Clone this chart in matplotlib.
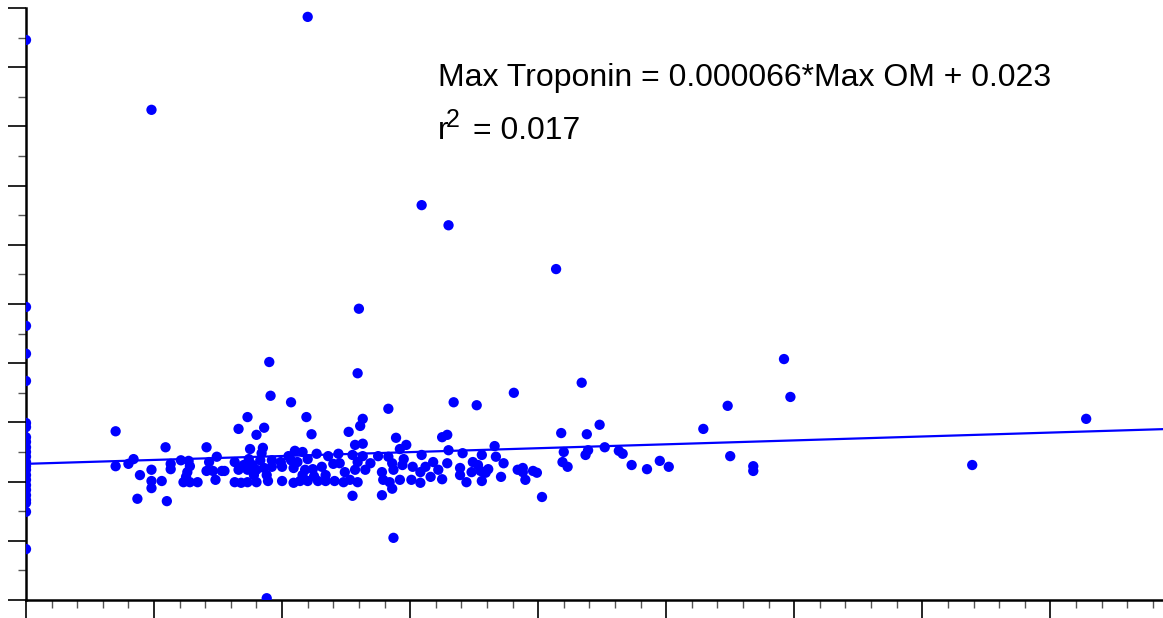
import matplotlib.pyplot as plt
import numpy as np

plt.rcParams['font.family'] = ['Liberation Sans', 'DejaVu Sans']

# Max OM (x) and Max Troponin (y)
max_om = np.array([
    # outliers and sparse points
    22.0, 9.8, 30.9, 33.0, 41.4, 26.0, 19.0, 25.9, 59.2, 43.4, 38.1, 59.7,
    19.1, 20.7, 33.4, 35.2, 54.8, 82.8, 17.3, 21.9, 28.3, 26.3, 16.6, 7.0,
    44.8, 41.8, 43.8, 52.9, 73.9, 55.0, 56.8, 56.8, 47.3, 48.5, 49.5, 50.2,
    45.2, 46.3, 46.6, 28.7, 18.8, 40.3, 25.5, 8.7, 11.0,
    # 7 - 15
    10.9, 14.1, 7.0, 8.0, 8.4, 8.9, 9.8, 9.8, 9.8, 10.6, 11.3, 11.3, 12.1,
    12.7, 12.8, 12.6, 12.5, 12.3, 12.8, 13.4, 14.3, 14.9, 14.1, 14.6, 15.3,
    14.8,
    # 15 - 26
    18.0, 18.6, 22.3, 25.2, 25.7, 17.5, 18.5, 18.4, 16.3, 17.4, 17.0, 17.7,
    18.3, 19.2, 19.9, 20.5, 21.0, 21.6, 20.7, 21.2, 22.0, 22.7, 23.6, 24.4,
    24.5, 24.0, 23.1, 22.4, 21.8, 20.9, 20.0, 19.2, 18.6, 18.0, 17.3, 16.6,
    15.5, 16.3, 16.8, 17.3, 18.0, 18.9, 20.0, 20.9, 21.4, 22.0, 22.8, 23.4,
    24.1, 24.8, 25.3, 23.4, 22.5, 24.9, 21.6, 18.8, 17.8,
    # 25 - 35
    26.1, 26.3, 28.9, 29.7, 29.2, 32.5, 32.9, 33.0, 34.1, 25.5, 26.3, 27.5,
    28.3, 29.5, 30.9, 31.8, 32.9, 34.9, 25.9, 26.9, 28.6, 29.4, 30.2, 31.2,
    32.2, 33.9, 34.8, 25.7, 26.5, 27.8, 28.7, 30.8, 31.6, 33.9, 25.9, 27.9,
    28.4, 29.2, 30.1, 30.8, 32.5, 34.4, 28.6, 27.8,
    # 35 - 45
    36.6, 35.6, 36.7, 42.0, 43.9, 43.7, 37.3, 35.3, 36.1, 41.9, 42.3, 35.5,
    35.9, 38.4, 38.8, 38.8, 39.6, 39.9, 35.6, 37.1, 39.0,
    # Max OM = 0
    0, 0, 0, 0, 0, 0, 0, 0, 0, 0, 0, 0, 0, 0, 0, 0, 0, 0, 0, 0, 0, 0, 0, 0,
])

max_troponin = np.array([
    0.0985, 0.0828, 0.0667, 0.0633, 0.0559, 0.0492, 0.0402, 0.0383, 0.0407,
    0.0367, 0.0350, 0.0343, 0.0345, 0.0334, 0.0334, 0.0329, 0.0328, 0.0306,
    0.0309, 0.0309, 0.0323, 0.0306, 0.0289, 0.0285, 0.0296, 0.0282, 0.0280,
    0.0289, 0.0228, 0.0243, 0.0226, 0.0218, 0.0228, 0.0221, 0.0235, 0.0225,
    0.0258, 0.0252, 0.0247, 0.0105, 0.0003, 0.0174, 0.0176, 0.0171, 0.0167,

    0.0258, 0.0258, 0.0226, 0.0230, 0.0238, 0.0211, 0.0220, 0.0201, 0.0189,
    0.0201, 0.0230, 0.0221, 0.0236, 0.0235, 0.0226, 0.0216, 0.0208, 0.0199,
    0.0199, 0.0199, 0.0233, 0.0242, 0.0218, 0.0218, 0.0218, 0.0203,

    0.0279, 0.0291, 0.0280, 0.0284, 0.0262, 0.0255, 0.0257, 0.0248, 0.0233,
    0.0238, 0.0228, 0.0228, 0.0236, 0.0236, 0.0233, 0.0243, 0.0252, 0.0250,
    0.0236, 0.0233, 0.0238, 0.0247, 0.0243, 0.0247, 0.0231, 0.0230, 0.0225,
    0.0221, 0.0220, 0.0223, 0.0225, 0.0225, 0.0223, 0.0220, 0.0220, 0.0220,
    0.0218, 0.0199, 0.0198, 0.0199, 0.0199, 0.0201, 0.0201, 0.0198, 0.0201,
    0.0201, 0.0201, 0.0201, 0.0201, 0.0199, 0.0203, 0.0211, 0.0209, 0.0216,
    0.0211, 0.0211, 0.0211,

    0.0294, 0.0264, 0.0274, 0.0262, 0.0255, 0.0275, 0.0279, 0.0253, 0.0248,
    0.0245, 0.0243, 0.0243, 0.0242, 0.0238, 0.0245, 0.0233, 0.0231, 0.0233,
    0.0233, 0.0231, 0.0231, 0.0228, 0.0225, 0.0225, 0.0220, 0.0223, 0.0216,
    0.0220, 0.0220, 0.0216, 0.0220, 0.0216, 0.0208, 0.0211, 0.0199, 0.0203,
    0.0199, 0.0203, 0.0203, 0.0198, 0.0204, 0.0199, 0.0188, 0.0177,

    0.0260, 0.0245, 0.0242, 0.0250, 0.0253, 0.0245, 0.0231, 0.0228, 0.0221,
    0.0233, 0.0225, 0.0218, 0.0215, 0.0220, 0.0223, 0.0216, 0.0218, 0.0215,
    0.0201, 0.0208, 0.0203,

    0.0946, 0.0495, 0.0463, 0.0416, 0.0370, 0.0299, 0.0292, 0.0275, 0.0267,
    0.0258, 0.0250, 0.0242, 0.0233, 0.0226, 0.0220, 0.0211, 0.0203, 0.0194,
    0.0186, 0.0177, 0.0169, 0.0164, 0.0149, 0.0086,
])

slope = 0.000066
intercept = 0.023
r_squared = 0.017
x_max = 88.8
y_max = 0.1

fig = plt.figure(figsize=(11.63, 6.18), dpi=100)
ax = fig.add_axes([26 / 1163, 18 / 618, 1 - 26 / 1163, 592 / 618])

ax.scatter(max_om, max_troponin, s=55, color='#0000ff', edgecolors='none', zorder=3)
line_x = np.array([0, x_max])
ax.plot(line_x, slope * line_x + intercept, color='#0000ff', lw=1.6, zorder=2)

ax.set_xlim(0, x_max)
ax.set_ylim(0, y_max)
ax.set_xticks(np.arange(0, x_max, 10))
ax.set_xticks(np.arange(0, x_max, 2), minor=True)
ax.set_yticks(np.arange(0, y_max + 0.001, 0.01))
ax.set_yticks(np.arange(0, y_max, 0.005), minor=True)
ax.tick_params(which='major', direction='out', length=13, width=1.2, color='black',
               labelbottom=False, labelleft=False)
ax.tick_params(which='minor', direction='out', length=6, width=1, color='#555555')

for side in ['top', 'right']:
    ax.spines[side].set_visible(False)
for side in ['left', 'bottom']:
    ax.spines[side].set_linewidth(1.8)

# fit equation and r^2 (superscript drawn as its own text so it stays large)
tx, ty1, ty2 = 0.362, 0.868, 0.779
ax.text(tx, ty1, 'Max Troponin = %.6f*Max OM + %.3f' % (slope, intercept),
        transform=ax.transAxes, fontsize=23, va='baseline')
ax.text(tx, ty2, 'r', transform=ax.transAxes, fontsize=23, va='baseline')
ax.annotate('2', xy=(tx, ty2), xycoords='axes fraction', xytext=(6, 8.5),
            textcoords='offset points', fontsize=18, va='baseline')
ax.annotate('= %.3f' % r_squared, xy=(tx, ty2), xycoords='axes fraction',
            xytext=(25.5, 0), textcoords='offset points', fontsize=23, va='baseline')

fig.savefig('out.png', dpi=100)
